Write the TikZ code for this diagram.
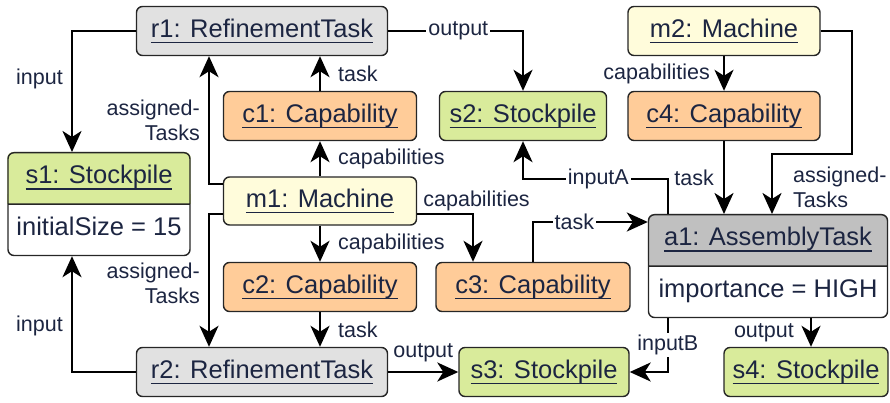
\documentclass[tikz,border=0pt]{standalone}
\usepackage{fontspec}
\setmainfont{Liberation Sans}
\usetikzlibrary{arrows.meta,shapes.multipart,backgrounds}

\definecolor{taskgray}{HTML}{E1E1E1}
\definecolor{assemblygray}{HTML}{C0C0C0}
\definecolor{stockgreen}{HTML}{D9EB9B}
\definecolor{caporange}{HTML}{FFCC99}
\definecolor{machineyellow}{HTML}{FFFCDB}
\definecolor{textnavy}{HTML}{1C2541}

\newcommand\objname[1]{\setbox0\hbox{#1}\rlap{\rule[-6pt]{\wd0}{1.6pt}}\box0}
\newcommand\partstrut{\rule[-8pt]{0pt}{27pt}}

\begin{document}
\begin{tikzpicture}[x=1pt,y=-1pt,
        obj/.style={draw=black!85,line width=1.4pt,rounded corners=6pt,minimum height=49pt,inner sep=0pt,text=textnavy,font=\fontsize{25.5}{30}\selectfont},
        refine/.style={obj,fill=taskgray,minimum width=251pt},
        capab/.style={obj,fill=caporange,minimum width=193pt},
        machine/.style={obj,fill=machineyellow,minimum width=192pt},
        stock/.style={obj,fill=stockgreen},
        compart/.style={obj,rectangle split,rectangle split parts=2,inner xsep=6pt,inner ysep=11.5pt,anchor=north},
        lbl/.style={text=textnavy,font=\fontsize{21.5}{25}\selectfont,inner sep=2pt},
        link/.style={line width=2.4pt,-{Stealth[length=21pt,width=19pt,inset=6pt]}}]

        \useasboundingbox (0,0) rectangle (890,403);

        \node[refine] (r1) at (262,31) {\objname{r1: RefinementTask}};
        \node[capab] (c1) at (320,116) {\objname{c1: Capability}};
        \node[stock,minimum width=167pt] (s2) at (523,116) {\objname{s2: Stockpile}};
        \node[machine] (m2) at (724,31) {\objname{m2: Machine}};
        \node[capab,minimum width=192pt] (c4) at (724,116) {\objname{c4: Capability}};
        \node[compart,minimum width=182pt] (s1) at (99,152) {\partstrut\objname{s1: Stockpile}\nodepart{two}\partstrut initialSize = 15};
        \node[machine,minimum width=193pt,minimum height=48pt] (m1) at (320,201) {\objname{m1: Machine}};
        \node[capab] (c2) at (320,287) {\objname{c2: Capability}};
        \node[capab,minimum width=194pt] (c3) at (533,287) {\objname{c3: Capability}};
        \node[compart,minimum width=239pt] (a1) at (768,214) {\partstrut\objname{a1: AssemblyTask}\nodepart{two}\partstrut importance = HIGH};
        \node[refine] (r2) at (262,372) {\objname{r2: RefinementTask}};
        \node[stock,minimum width=170pt] (s3) at (544,372) {\objname{s3: Stockpile}};
        \node[stock,minimum width=164pt] (s4) at (806,372) {\objname{s4: Stockpile}};

        \coordinate (m2bend) at (852,154);

        \begin{scope}[on background layer]
                \fill[stockgreen,rounded corners=6pt] (s1.north west) rectangle (s1.text split east);
                \fill[stockgreen] (s1.text split west) rectangle ([yshift=10pt]s1.text split east);
                \fill[assemblygray,rounded corners=6pt] (a1.north west) rectangle (a1.text split east);
                \fill[assemblygray] (a1.text split west) rectangle ([yshift=10pt]a1.text split east);
        \end{scope}

        \draw[link] (r1.west) -| ([xshift=-27pt]s1.north) node[pos=0.7,left,lbl,xshift=-6pt] {input};
        \draw[link] (r1.east) -| (s2.north) node[pos=0.26,lbl,fill=white] {output};
        \draw[link] (c1.north) -- (c1.north |- r1.south) node[midway,right,lbl,xshift=15pt] {task};
        \draw[link] (m1.north) -- (c1.south) node[midway,right,lbl,xshift=15pt] {capabilities};
        \draw[link] ([yshift=17pt]m1.west) -| ([xshift=-53pt]r1.south) node[pos=0.75,left,lbl,align=right,xshift=-6pt] {assigned-\\Tasks};
        \draw[link] ([yshift=-13pt]m1.west) -| ([xshift=-53pt]r2.north) node[pos=0.76,left,lbl,align=right,xshift=-6pt] {assigned-\\Tasks};
        \draw[link] (m1.south) -- (c2.north) node[midway,right,lbl,xshift=15pt] {capabilities};
        \draw[link] ([yshift=-13pt]m1.east) -| ([xshift=-60pt]c3.north) node[pos=0,anchor=south west,lbl,xshift=3pt] {capabilities};
        \draw[link] (c2.south) -- (r2.north -| c2.south) node[midway,right,lbl,xshift=15pt] {task};
        \draw[link] (r2.west) -| ([xshift=-27pt]s1.south) node[pos=0.7,left,lbl,xshift=-6pt] {input};
        \draw[link] (r2.east) -- (s3.west) node[midway,above,lbl,yshift=7pt] {output};
        \draw[link] (c3.north) |- ([yshift=-8pt]a1.north west) node[pos=0.68,lbl,fill=white] {task};
        \draw[link] (m2.south) -- (c4.north) node[midway,left,lbl,xshift=-11pt] {capabilities};
        \draw[link] (c4.south) -- (c4.south |- a1.north) node[midway,left,lbl,xshift=-7pt] {task};
        \draw[link] (m2.east) -| (m2bend) -| ([xshift=4pt]a1.north) node[pos=0.78,right,lbl,align=left,xshift=18pt] {assigned-\\Tasks};
        \draw[link] ([xshift=20pt]a1.north west) -- ++(0,-35) -| (s2.south) node[pos=0.24,lbl,fill=white] {inputA};
        \draw[link] ([xshift=20pt]a1.south west) |- (s3.east) node[pos=0.25,lbl,fill=white] {inputB};
        \draw[link] ([xshift=43pt]a1.south) -- ([xshift=43pt]a1.south |- s4.north) node[midway,left,lbl,xshift=-14pt] {output};

    \end{tikzpicture}
\end{document}
